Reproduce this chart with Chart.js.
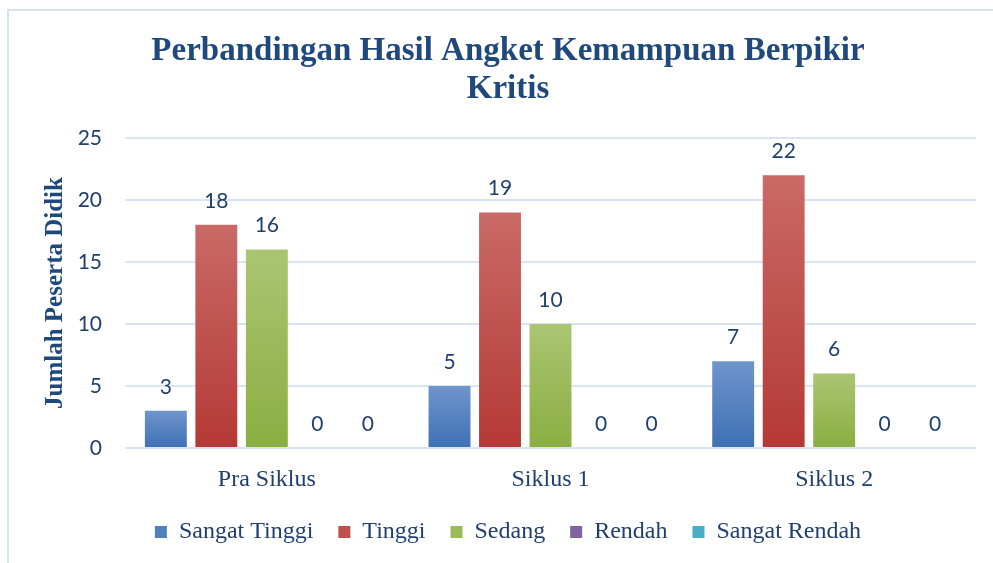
<!DOCTYPE html>
<html lang="id">
<head>
    <meta charset="UTF-8">
    <title>Perbandingan Hasil Angket Kemampuan Berpikir Kritis</title>
    <script src="https://cdn.jsdelivr.net/npm/chart.js"></script>
    <style>
        body {
            margin: 0;
            background-color: #ffffff;
            overflow: hidden;
        }
        .frame {
            position: absolute;
            left: 7px;
            top: 9px;
            width: 1000px;
            height: 600px;
            border-left: 2px solid #d5e2f2;
            border-top: 2px solid #d5e2f2;
        }
        canvas {
            position: absolute;
            left: 0;
            top: 0;
        }
    </style>
</head>
<body>
    <div class="frame"></div>
    <canvas id="graph" width="993" height="563"></canvas>

    <script>
        const categories = ["Pra Siklus", "Siklus 1", "Siklus 2"];
        const seriesNames = ["Sangat Tinggi", "Tinggi", "Sedang", "Rendah", "Sangat Rendah"];
        const sangatTinggi = [3, 5, 7];
        const tinggi = [18, 19, 22];
        const sedang = [16, 10, 6];
        const rendah = [0, 0, 0];
        const sangatRendah = [0, 0, 0];
        const yTicks = [0, 5, 10, 15, 20, 25];

        const navy = '#1f3f6f';
        // [legend colour, gradient top, gradient bottom]
        const palette = [
            ['#4f81bd', '#6f95cc', '#3e70b5'],
            ['#c0504d', '#c96a66', '#b43936'],
            ['#9bbb59', '#abc572', '#8aae42'],
            ['#8064a2', '#9580b5', '#6f5493'],
            ['#4bacc6', '#6dbdd3', '#3a9ab5']
        ];

        function barGradient(i) {
            return function (context) {
                const chart = context.chart;
                const y = chart.scales.y;
                if (!y || context.raw === undefined) return palette[i][0];
                const top = y.getPixelForValue(context.raw);
                const base = y.getPixelForValue(0);
                if (base - top < 1) return palette[i][0];
                const g = chart.ctx.createLinearGradient(0, top, 0, base);
                g.addColorStop(0, palette[i][1]);
                g.addColorStop(1, palette[i][2]);
                return g;
            };
        }

        // value labels above each bar
        const valueLabels = {
            id: 'valueLabels',
            afterDatasetsDraw(chart) {
                const ctx = chart.ctx;
                ctx.save();
                ctx.font = '21px Lato';
                ctx.fillStyle = navy;
                ctx.textAlign = 'center';
                ctx.textBaseline = 'middle';
                chart.data.datasets.forEach((ds, i) => {
                    chart.getDatasetMeta(i).data.forEach((bar, j) => {
                        ctx.fillText(String(ds.data[j]), bar.x, bar.y - 24);
                    });
                });
                ctx.restore();
            }
        };

        const allData = [sangatTinggi, tinggi, sedang, rendah, sangatRendah];

        new Chart(document.getElementById('graph'), {
            type: 'bar',
            data: {
                labels: categories,
                datasets: seriesNames.map((name, i) => ({
                    label: name,
                    data: allData[i],
                    backgroundColor: barGradient(i),
                    categoryPercentage: 0.89,
                    barPercentage: 0.83
                }))
            },
            options: {
                responsive: false,
                animation: false,
                layout: { padding: { left: 40, right: 17, top: 0, bottom: 9 } },
                plugins: {
                    title: {
                        display: true,
                        text: ['Perbandingan Hasil Angket Kemampuan Berpikir', 'Kritis'],
                        color: '#1f497d',
                        font: { family: "'Liberation Serif'", size: 33, weight: 'bold', lineHeight: 1.167 },
                        padding: { top: 32, bottom: 29 }
                    },
                    legend: {
                        position: 'bottom',
                        labels: {
                            generateLabels(chart) {
                                return seriesNames.map((name, i) => ({
                                    text: name,
                                    fillStyle: palette[i][0],
                                    strokeStyle: palette[i][0],
                                    lineWidth: 0,
                                    fontColor: navy,
                                    datasetIndex: i
                                }));
                            },
                            boxWidth: 12,
                            boxHeight: 12,
                            padding: 25,
                            color: navy,
                            font: { family: "'Liberation Serif'", size: 24 }
                        }
                    },
                    tooltip: { enabled: false }
                },
                scales: {
                    x: {
                        grid: { display: false },
                        border: { display: false },
                        ticks: {
                            color: navy,
                            padding: 9,
                            font: { family: "'Liberation Serif'", size: 24 }
                        },
                        afterFit(scale) { scale.height = 47; }
                    },
                    y: {
                        min: 0,
                        max: 25,
                        afterBuildTicks(scale) {
                            scale.ticks = yTicks.map(v => ({ value: v }));
                        },
                        grid: { color: '#d9e4f2', lineWidth: 2, drawTicks: false },
                        border: { display: false },
                        ticks: {
                            color: navy,
                            padding: 23,
                            font: { family: 'Lato', size: 21 }
                        },
                        title: {
                            display: true,
                            text: 'Jumlah Peserta Didik',
                            color: '#1f497d',
                            font: { family: "'Liberation Serif'", size: 25, weight: 'bold', lineHeight: 1.2 },
                            padding: { top: 1, bottom: 0 }
                        },
                        afterFit(scale) { scale.width = 85; }
                    }
                }
            },
            plugins: [valueLabels]
        });
    </script>
</body>
</html>
